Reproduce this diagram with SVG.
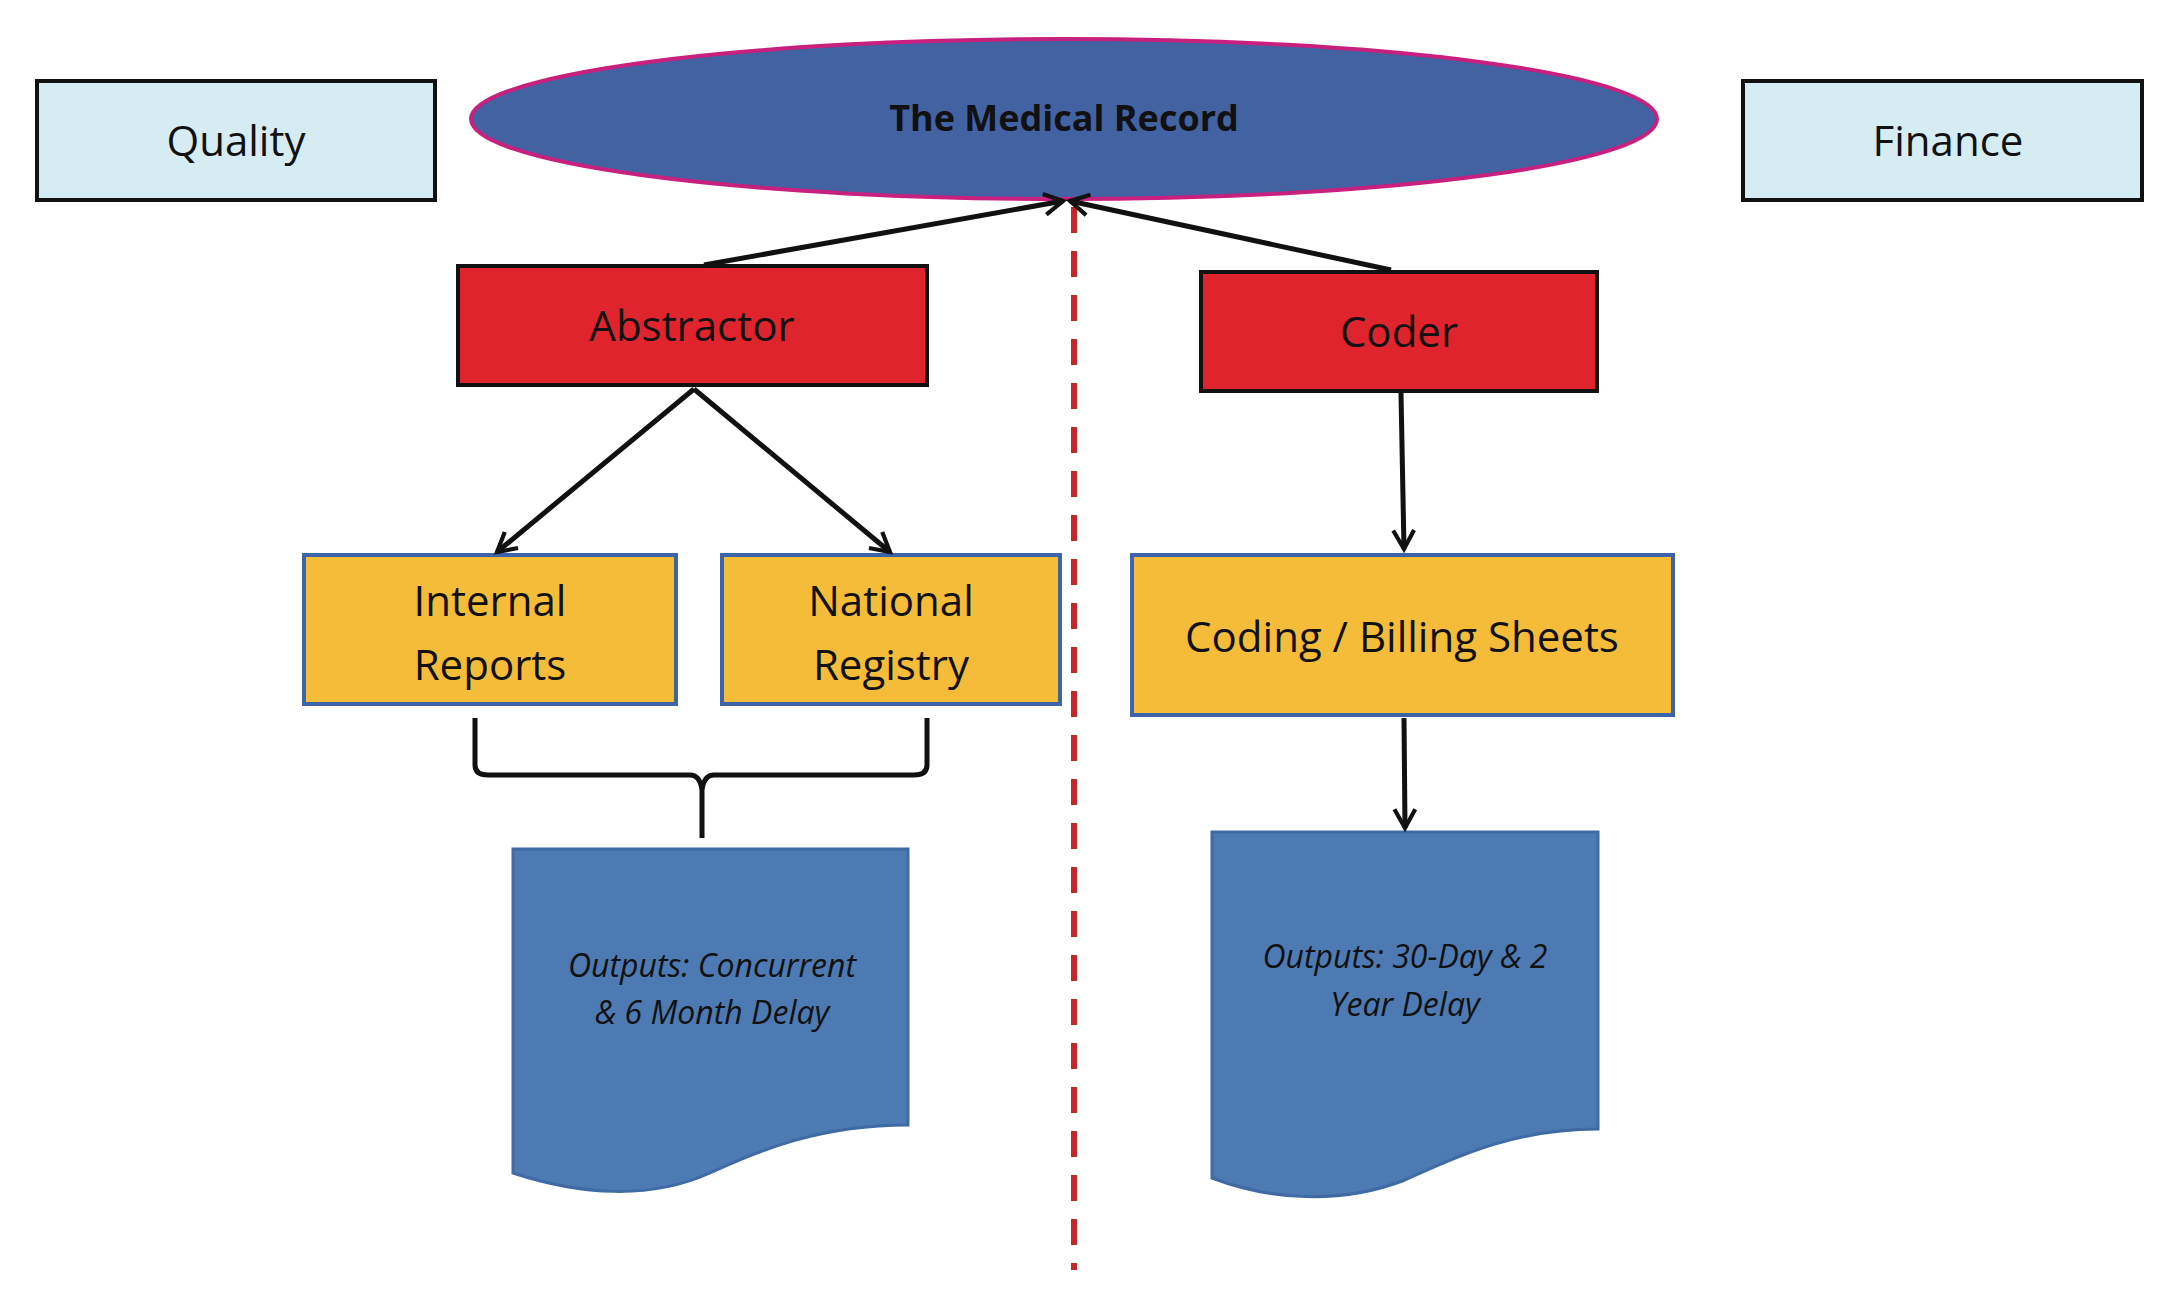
<svg xmlns="http://www.w3.org/2000/svg" width="2170" height="1294" viewBox="0 0 2170 1294">
<style>
text{font-family:"Open Sans","Liberation Sans",sans-serif;fill:#111;text-anchor:middle}
.lb{fill:#d6ecf3;stroke:#111;stroke-width:4}
.red{fill:#e0242d;stroke:#111;stroke-width:4}
.yel{fill:#f4bc38;stroke:#3d63a8;stroke-width:4}
.doc{fill:#4d7ab3;stroke:#3f6aa3;stroke-width:3}
.t{font-size:42px}
.o{font-size:32px;font-style:italic}
.c line,.c path{stroke:#111;stroke-width:5;fill:none}
</style>
<defs><marker id="a" viewBox="0 0 12 12" refX="10" refY="6" markerWidth="5" markerHeight="5" orient="auto"><path d="M1,1 L10,6 L1,11" fill="none" stroke="#111" stroke-width="2"/></marker></defs>
<rect width="2170" height="1294" fill="#fff"/>
<g id="quality"><rect class="lb" x="37" y="81" width="398" height="119"/><text class="t" x="236" y="156">Quality</text></g>
<g id="finance"><rect class="lb" x="1743" y="81" width="399" height="119"/><text class="t" x="1948" y="156">Finance</text></g>
<g id="record"><ellipse cx="1064" cy="119" rx="593" ry="80" fill="#4262a2" stroke="#c8207e" stroke-width="4"/><text x="1064" y="131" font-size="36" font-weight="bold">The Medical Record</text></g>
<line x1="1074" y1="207" x2="1074" y2="1270" stroke="#c8262a" stroke-width="6" stroke-dasharray="26,18"/>
<g id="abstractor"><rect class="red" x="458" y="266" width="469" height="119"/><text class="t" x="692" y="341">Abstractor</text></g>
<g id="coder"><rect class="red" x="1201" y="272" width="396" height="119"/><text class="t" x="1399" y="347">Coder</text></g>
<g id="internal"><rect class="yel" x="304" y="555" width="372" height="149"/><text class="t" x="490" y="616">Internal</text><text class="t" x="490" y="680">Reports</text></g>
<g id="national"><rect class="yel" x="722" y="555" width="338" height="149"/><text class="t" x="891" y="616">National</text><text class="t" x="891" y="680">Registry</text></g>
<g id="coding"><rect class="yel" x="1132" y="555" width="541" height="160"/><text class="t" x="1402" y="652">Coding / Billing Sheets</text></g>
<g id="out1"><path class="doc" d="M513,849 H908 V1125 C820,1125 760,1150 710,1173 C650,1200 580,1195 513,1173 Z"/><text class="o" x="712" y="977">Outputs: Concurrent</text><text class="o" x="712" y="1024">&amp; 6 Month Delay</text></g>
<g id="out2"><path class="doc" d="M1212,832 H1598 V1129 C1510,1129 1450,1160 1405,1180 C1340,1205 1270,1200 1212,1178 Z"/><text class="o" x="1405" y="968">Outputs: 30-Day &amp; 2</text><text class="o" x="1405" y="1016">Year Delay</text></g>
<g class="c" id="connectors">
<line x1="704" y1="265" x2="1063" y2="201" marker-end="url(#a)"/>
<line x1="1391" y1="270" x2="1070" y2="201" marker-end="url(#a)"/>
<line x1="694" y1="389" x2="497" y2="552" marker-end="url(#a)"/>
<line x1="694" y1="389" x2="890" y2="552" marker-end="url(#a)"/>
<line x1="1401" y1="393" x2="1404" y2="549" marker-end="url(#a)"/>
<line x1="1404" y1="718" x2="1405" y2="828" marker-end="url(#a)"/>
<path d="M475,718 V765 Q475,775 488,775 H690 Q700,775 702,790 V838 M702,790 Q704,775 714,775 H914 Q927,775 927,765 V718"/>
</g>
</svg>
